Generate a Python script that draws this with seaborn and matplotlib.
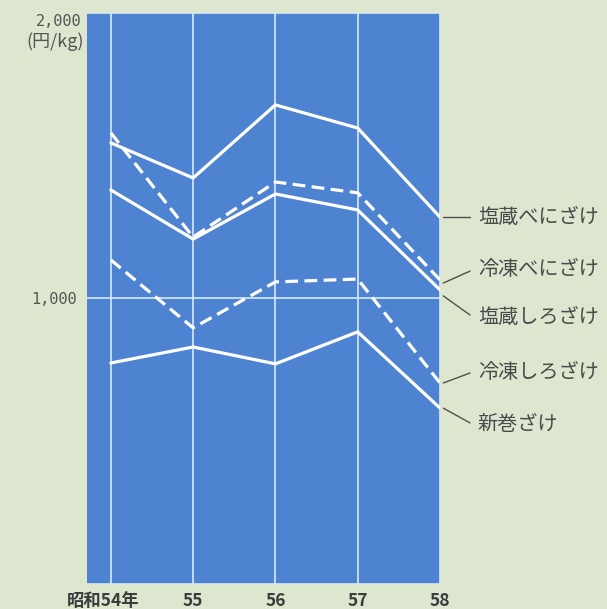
import matplotlib
matplotlib.use("Agg")
import matplotlib.pyplot as plt
import matplotlib.transforms as mtransforms
import seaborn as sns
import pandas as pd

# Wholesale prices of salted/frozen salmon, yen per kg, Showa 54-58
years = [54, 55, 56, 57, 58]
year_labels = ["昭和54年", "55", "56", "57", "58"]

enzo_beni = [1545, 1422, 1678, 1597, 1285]     # 塩蔵べにざけ
reito_beni = [1580, 1215, 1408, 1370, 1065]    # 冷凍べにざけ
enzo_shiro = [1380, 1208, 1366, 1310, 1030]    # 塩蔵しろざけ
reito_shiro = [1135, 897, 1058, 1068, 704]     # 冷凍しろざけ
aramaki = [774, 830, 771, 883, 616]            # 新巻ざけ

series_names = ["塩蔵べにざけ", "冷凍べにざけ", "塩蔵しろざけ", "冷凍しろざけ", "新巻ざけ"]
series_values = [enzo_beni, reito_beni, enzo_shiro, reito_shiro, aramaki]
series_kind = ["solid", "dashed", "solid", "dashed", "solid"]

rows = []
for name, vals, kind in zip(series_names, series_values, series_kind):
    for y, v in zip(years, vals):
        rows.append({"year": y, "price": v, "series": name, "kind": kind})
df = pd.DataFrame(rows)

sns.set_style("white")
plt.rcParams["font.family"] = ["Noto Sans CJK JP", "DejaVu Sans"]

BG = "#dde6cf"
PANEL = "#4e83d2"
GRID = "#d6ebfb"
TEXT = "#4a4a4a"

fig = plt.figure(figsize=(6.07, 6.09), dpi=100, facecolor=BG)
ax = fig.add_axes([0.1433, 0.0411, 0.5816, 0.9376])
ax.set_facecolor(PANEL)

ax.set_xlim(53.71, 58)
ax.set_ylim(0, 2000)
ax.set_xticks(years)
ax.set_yticks([0, 1000, 2000])
ax.grid(True, color=GRID, linewidth=1.2)
ax.set_axisbelow(True)
for s in ax.spines.values():
    s.set_visible(False)

sns.lineplot(
    data=df, x="year", y="price", hue="series", style="kind",
    palette={n: "white" for n in series_names},
    dashes={"solid": "", "dashed": (4, 2)},
    linewidth=2.3, legend=False, ax=ax, sort=False,
)
ax.set_xlabel("")
ax.set_ylabel("")

# x tick labels
ax.set_xticklabels(year_labels, fontsize=12.5, fontweight="bold", color="#3c3c3c")
ax.tick_params(axis="x", length=0, pad=6)
first = ax.get_xticklabels()[0]
first.set_transform(first.get_transform() + mtransforms.ScaledTranslation(-0.08, 0, fig.dpi_scale_trans))

# y tick labels
ax.set_yticklabels(["", "1,000", ""], fontsize=11, color="#555555",
                   family=["DejaVu Sans Mono"])
ax.tick_params(axis="y", length=0, pad=7)
ax.text(-0.016, 0.998, "2,000", transform=ax.transAxes, ha="right", va="top",
        fontsize=11, color="#555555", family=["DejaVu Sans Mono"])
ax.text(-0.01, 0.966, "(円/kg)", transform=ax.transAxes, ha="right", va="top",
        fontsize=13, color="#555555", family=["Noto Sans CJK JP", "DejaVu Sans"])

# series labels with leader lines
x_start, x_end, x_text = 58.04, 58.365, 58.46
leaders = [
    (1285, 1285, 1285),
    (1054, 1096, 1100),
    (1009, 942, 935),
    (704, 739, 739),
    (616, 564, 557),
]
for name, (y0, y1, yt) in zip(series_names, leaders):
    ax.plot([x_start, x_end], [y0, y1], color="#505050", linewidth=1.0, clip_on=False)
    ax.text(x_text, yt, name, ha="left", va="center", fontsize=14.5, color=TEXT,
            clip_on=False)

fig.savefig("out.png", dpi=100, facecolor=BG)
